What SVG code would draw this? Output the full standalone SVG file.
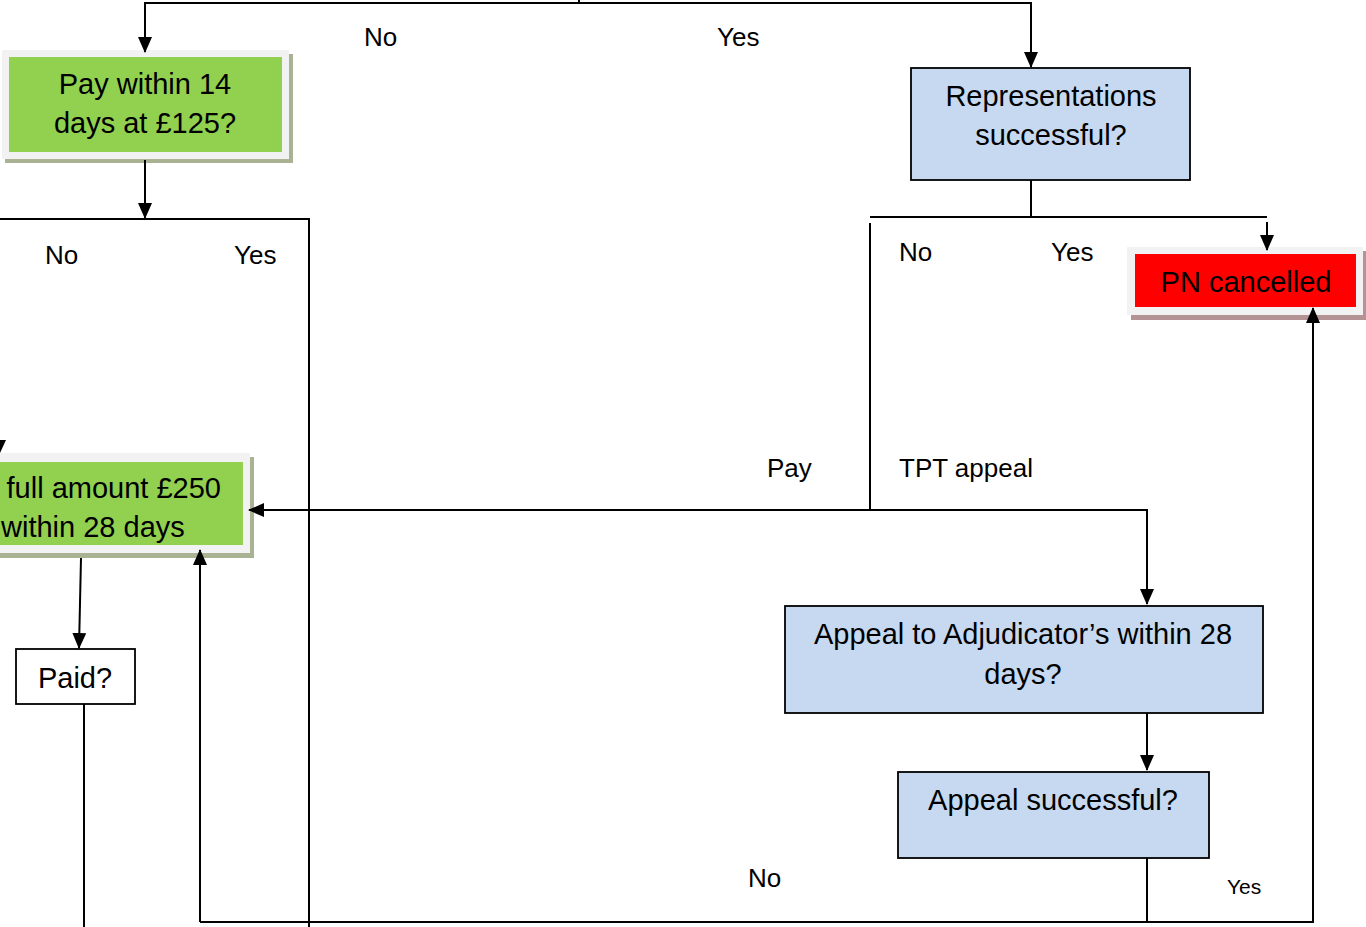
<svg xmlns="http://www.w3.org/2000/svg" width="1366" height="927" viewBox="0 0 1366 927">
<defs>
<marker id="ah" markerUnits="userSpaceOnUse" markerWidth="16" markerHeight="14" refX="15" refY="7" orient="auto"><path d="M0,0 L16,7 L0,14 z" fill="#000"/></marker>
</defs>
<style>
.c{fill:none;stroke:#000;stroke-width:2}
.a{marker-end:url(#ah)}
.bt{font-family:"Liberation Sans",Arial,sans-serif;font-size:29px;fill:#000}
.lb{font-family:"Liberation Sans",Arial,sans-serif;font-size:26px;fill:#000}
.blue{fill:#c6d9f1;stroke:#000;stroke-width:1.8}
.frame{fill:#f2f2f2}
.gsh{fill:#a9b394}
.rsh{fill:#b39393}
</style>
<rect width="1366" height="927" fill="#fff"/>
<g id="pay14">
<rect class="gsh" x="5" y="54" width="288" height="109"/>
<rect class="frame" x="2" y="50" width="287" height="109"/>
<rect x="9" y="57" width="273" height="95" fill="#92d050"/>
<text class="bt" x="145" y="94" text-anchor="middle">Pay within 14</text>
<text class="bt" x="145" y="133" text-anchor="middle">days at £125?</text>
</g>
<g id="representations">
<rect class="blue" x="911" y="68" width="279" height="112"/>
<text class="bt" x="1051" y="106" text-anchor="middle">Representations</text>
<text class="bt" x="1051" y="145" text-anchor="middle">successful?</text>
</g>
<g id="pncancelled">
<rect class="rsh" x="1131" y="251" width="236" height="69"/>
<rect class="frame" x="1127" y="247" width="236" height="68"/>
<rect x="1135" y="254" width="221" height="53" fill="#ff0000"/>
<text class="bt" x="1246" y="292" text-anchor="middle">PN cancelled</text>
</g>
<g id="payfull">
<rect class="gsh" x="-20" y="457" width="274" height="101"/>
<rect class="frame" x="-20" y="453" width="270" height="100"/>
<rect x="-20" y="462" width="263" height="83" fill="#92d050"/>
<text class="bt" x="221" y="498" text-anchor="end">full amount £250</text>
<text class="bt" x="1" y="537">within 28 days</text>
</g>
<g id="paid">
<rect x="16" y="649" width="119" height="55" fill="#fff" stroke="#000" stroke-width="1.8"/>
<text class="bt" x="75" y="688" text-anchor="middle">Paid?</text>
</g>
<g id="adjudicator">
<rect class="blue" x="785" y="606" width="478" height="107"/>
<text class="bt" x="1023" y="644" text-anchor="middle">Appeal to Adjudicator’s within 28</text>
<text class="bt" x="1023" y="684" text-anchor="middle">days?</text>
</g>
<g id="appealsuccess">
<rect class="blue" x="898" y="772" width="311" height="86"/>
<text class="bt" x="1053" y="810" text-anchor="middle">Appeal successful?</text>
</g>
<g id="connectors">
<path class="c" d="M579,0 V3"/>
<path class="c a" d="M579,3 H145 V52"/>
<path class="c a" d="M579,3 H1031 V67"/>
<path class="c a" d="M145,160 V218"/>
<path class="c" d="M0,219 H309 V927"/>
<path class="c" d="M1031,180 V217 M870,217 H1267"/>
<path class="c a" d="M1267,222 V250"/>
<path class="c a" d="M870,223 V510 H249"/>
<path class="c a" d="M870,510 H1147 V604"/>
<path class="c a" d="M1147,713 V770"/>
<path class="c" d="M1147,858 V922"/>
<path class="c a" d="M200,922 H1313 V308"/>
<path class="c a" d="M200,922 V550"/>
<path class="c a" d="M81,558 L79,648"/>
<path class="c" d="M84,704 V927"/>
<polygon points="-6,440 6,440 0,453" fill="#000"/>
</g>
<g id="labels">
<text class="lb" x="364" y="46">No</text>
<text class="lb" x="717" y="46">Yes</text>
<text class="lb" x="45" y="264">No</text>
<text class="lb" x="234" y="264">Yes</text>
<text class="lb" x="899" y="261">No</text>
<text class="lb" x="1051" y="261">Yes</text>
<text class="lb" x="767" y="477">Pay</text>
<text class="lb" x="899" y="477">TPT appeal</text>
<text class="lb" x="748" y="887">No</text>
<text x="1227" y="894" font-family="'Liberation Sans', Arial, sans-serif" font-size="21" fill="#000">Yes</text>
</g>
</svg>
